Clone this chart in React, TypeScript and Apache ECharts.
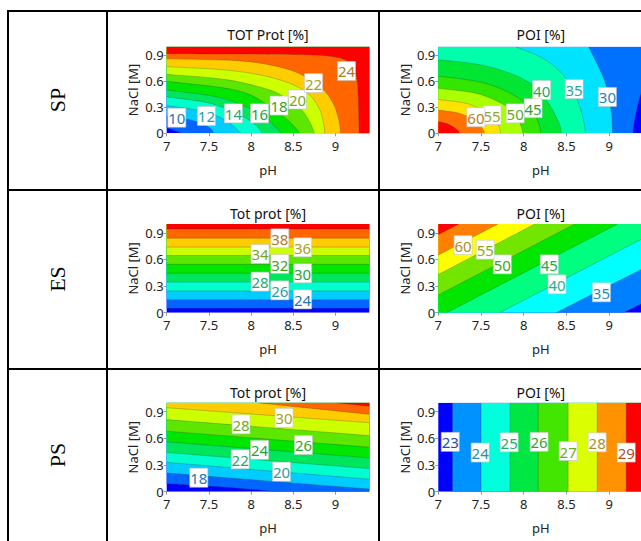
import React, { useEffect, useRef } from 'react';
import * as echarts from 'echarts';

// ---------- axes ----------
const PH_RANGE = [7, 9.4];
const NACL_RANGE = [0, 1];
const PH_TICK = 0.5;
const NACL_TICK = 0.3;

const rowNames = ['SP', 'ES', 'PS'];
const plotTitles = ['TOT Prot [%]', 'POI [%]', 'Tot prot [%]', 'POI [%]', 'Tot prot [%]', 'POI [%]'];

// ---------- SP : TOT Prot ----------
const spProtLevels = [8, 10, 12, 14, 16, 18, 20, 22, 24, 26];
const spProtLines = [
  [[7, 0.06], [7.1, 0.03], [7.18, 0]],
  [[7, 0.2], [7.3, 0.15], [7.5, 0.07], [7.56, 0]],
  [[7, 0.32], [7.4, 0.26], [7.7, 0.15], [7.88, 0]],
  [[7, 0.42], [7.5, 0.35], [7.85, 0.22], [8.05, 0.1], [8.13, 0]],
  [[7, 0.5], [7.6, 0.42], [7.95, 0.3], [8.2, 0.15], [8.36, 0]],
  [[7, 0.6], [7.7, 0.52], [8.0, 0.44], [8.22, 0.31], [8.45, 0.14], [8.58, 0]],
  [[7, 0.68], [7.7, 0.62], [8.22, 0.5], [8.45, 0.38], [8.6, 0.27], [8.7, 0.12], [8.75, 0]],
  [[7, 0.77], [7.7, 0.73], [8.22, 0.65], [8.62, 0.5], [8.8, 0.3], [8.86, 0.1], [8.87, 0]],
  [[7, 0.86], [7.8, 0.84], [8.22, 0.79], [8.55, 0.7], [8.82, 0.54], [8.97, 0.35], [9.04, 0.15], [9.06, 0]],
  [[7, 0.92], [8.5, 0.91], [9.0, 0.88], [9.18, 0.8], [9.25, 0.65], [9.27, 0.4], [9.28, 0]],
];
const spProtLabels = [
  [7.12, 0.18, 10], [7.47, 0.2, 12], [7.79, 0.23, 14], [8.1, 0.23, 16],
  [8.33, 0.32, 18], [8.55, 0.39, 20], [8.74, 0.58, 22], [9.13, 0.72, 24],
];

// ---------- SP : POI ----------
const spPoiLevels = [25, 30, 35, 40, 45, 50, 55, 60, 65];
const spPoiLines = [
  [[9.4, 0.55], [9.33, 0.3], [9.29, 0.1], [9.28, 0]],
  [[8.76, 1], [8.86, 0.8], [8.95, 0.6], [9.0, 0.4], [9.03, 0.2], [9.04, 0]],
  [[7.9, 1], [8.2, 0.88], [8.42, 0.72], [8.57, 0.52], [8.66, 0.3], [8.71, 0.1], [8.72, 0]],
  [[7, 0.85], [7.5, 0.79], [7.9, 0.67], [8.15, 0.52], [8.32, 0.3], [8.42, 0.1], [8.44, 0]],
  [[7, 0.66], [7.5, 0.59], [7.85, 0.46], [8.08, 0.29], [8.18, 0.1], [8.2, 0]],
  [[7, 0.52], [7.45, 0.46], [7.75, 0.34], [7.9, 0.22], [7.97, 0.08], [7.99, 0]],
  [[7, 0.39], [7.35, 0.34], [7.58, 0.23], [7.7, 0.1], [7.73, 0]],
  [[7, 0.27], [7.25, 0.23], [7.42, 0.15], [7.52, 0.05], [7.54, 0]],
  [[7, 0.135], [7.13, 0.1], [7.22, 0.04], [7.25, 0]],
];
const spPoiLabels = [
  [8.98, 0.42, 30], [8.59, 0.51, 35], [8.21, 0.5, 40], [8.11, 0.29, 45],
  [7.9, 0.23, 50], [7.63, 0.21, 55], [7.44, 0.185, 60],
];

// ---------- ES : Tot prot ----------
const esProtLevels = [22, 24, 26, 28, 30, 32, 34, 36, 38, 40];
const esProtLines = [
  [[7, 0.05], [9.4, 0.05]],
  [[7, 0.145], [9.4, 0.145]],
  [[7, 0.245], [9.4, 0.245]],
  [[7, 0.345], [9.4, 0.345]],
  [[7, 0.445], [9.4, 0.445]],
  [[7, 0.545], [9.4, 0.545]],
  [[7, 0.645], [9.4, 0.645]],
  [[7, 0.74], [9.4, 0.74]],
  [[7, 0.84], [9.4, 0.84]],
  [[7, 0.945], [9.4, 0.945]],
];
const esProtLabels = [
  [8.61, 0.15, 24], [8.34, 0.252, 26], [8.105, 0.35, 28], [8.61, 0.444, 30],
  [8.34, 0.549, 32], [8.105, 0.662, 34], [8.61, 0.737, 36], [8.34, 0.838, 38],
];

// ---------- ES : POI ----------
const esPoiLevels = [30, 35, 40, 45, 50, 55, 60, 65];
const esPoiLines = [
  [[9.17, 0], [9.4, 0.11]],
  [[8.38, 0], [9.4, 0.5]],
  [[7.72, 0], [9.4, 0.84]],
  [[7.1, 0], [9.1, 1]],
  [[7, 0.2], [8.6, 1]],
  [[7, 0.43], [8.13, 1]],
  [[7, 0.65], [7.7, 1]],
  [[7, 0.88], [7.24, 1]],
];
const esPoiLabels = [
  [8.91, 0.23, 35], [8.39, 0.32, 40], [8.3, 0.545, 45],
  [7.75, 0.545, 50], [7.55, 0.71, 55], [7.29, 0.763, 60],
];

// ---------- PS : Tot prot ----------
const psProtLevels = [16, 18, 20, 22, 24, 26, 28, 30, 32, 34];
const psProtLines = [
  [[7, 0.09], [7.7, 0.05], [8.3, 0]],
  [[7, 0.21], [9.4, 0.03]],
  [[7, 0.33], [9.4, 0.14]],
  [[7, 0.44], [9.4, 0.26]],
  [[7, 0.56], [9.4, 0.38]],
  [[7, 0.68], [9.4, 0.5]],
  [[7, 0.81], [9.4, 0.63]],
  [[7, 0.944], [9.4, 0.775]],
  [[8.07, 1], [9.4, 0.87]],
  [[9.0, 1], [9.4, 0.96]],
];
const psProtLabels = [
  [7.38, 0.157, 18], [8.36, 0.225, 20], [7.87, 0.364, 22], [8.1, 0.47, 24],
  [8.62, 0.525, 26], [7.88, 0.757, 28], [8.39, 0.83, 30],
];

// ---------- PS : POI ----------
const psPoiLevels = [23, 24, 25, 26, 27, 28, 29];
const psPoiLines = [
  [[7.165, 0], [7.165, 1]],
  [[7.5, 0], [7.5, 1]],
  [[7.84, 0], [7.84, 1]],
  [[8.17, 0], [8.17, 1]],
  [[8.52, 0], [8.52, 1]],
  [[8.86, 0], [8.86, 1]],
  [[9.2, 0], [9.2, 1]],
];
const psPoiLabels = [
  [7.14, 0.56, 23], [7.49, 0.44, 24], [7.83, 0.555, 25], [8.18, 0.56, 26],
  [8.52, 0.457, 27], [8.86, 0.555, 28], [9.2, 0.44, 29],
];

type Plot = { levels: number[]; lines: number[][][]; labels: number[][]; dir: 'ccw' | 'cw' };
const plots: Plot[] = [
  { levels: spProtLevels, lines: spProtLines, labels: spProtLabels, dir: 'ccw' },
  { levels: spPoiLevels, lines: spPoiLines, labels: spPoiLabels, dir: 'cw' },
  { levels: esProtLevels, lines: esProtLines, labels: esProtLabels, dir: 'ccw' },
  { levels: esPoiLevels, lines: esPoiLines, labels: esPoiLabels, dir: 'ccw' },
  { levels: psProtLevels, lines: psProtLines, labels: psProtLabels, dir: 'ccw' },
  { levels: psPoiLevels, lines: psPoiLines, labels: psPoiLabels, dir: 'cw' },
];

// ---------- layout ----------
const COLS = [
  { left: 166.7, width: 202.6 },
  { left: 438.3, width: 205 },
];
const ROWS = [
  { top: 46.7, height: 86.6, titleY: 34, labelY: 100 },
  { top: 224, height: 88.7, titleY: 213, labelY: 279 },
  { top: 402.7, height: 89, titleY: 392.5, labelY: 455 },
];

const FONT = '"Noto Sans", "DejaVu Sans", sans-serif';

// ---------- helpers ----------
function bandColor(i: number, n: number): number[] {
  const h = 240 * (1 - i / (n - 1));
  let r = 0, g = 0, b = 0;
  if (h <= 60) { r = 1; g = h / 60; }
  else if (h <= 120) { r = (120 - h) / 60; g = 1; }
  else if (h <= 180) { g = 1; b = (h - 120) / 60; }
  else { g = (240 - h) / 60; b = 1; }
  const v = h > 85 && h < 150 ? 0.9 : 1;
  return [r * 255 * v, g * 255 * v, b * 255 * v];
}
const rgb = (c: number[]) => `rgb(${Math.round(c[0])},${Math.round(c[1])},${Math.round(c[2])})`;

function labelColor(levels: number[], lv: number): string {
  const n = levels.length + 1;
  const j = Math.max(0, levels.indexOf(lv));
  const a = bandColor(j, n), b = bandColor(j + 1, n);
  const m = [0, 1, 2].map((k) => ((a[k] + b[k]) / 2) * 0.55 + 80 * 0.45);
  return rgb(m);
}

function smoothD(pts: number[][]): string {
  let d = `M${pts[0][0]} ${pts[0][1]}`;
  for (let i = 0; i < pts.length - 1; i++) {
    const p0 = pts[i - 1] || pts[i], p1 = pts[i], p2 = pts[i + 1], p3 = pts[i + 2] || pts[i + 1];
    const c1x = p1[0] + (p2[0] - p0[0]) / 6, c1y = p1[1] + (p2[1] - p0[1]) / 6;
    const c2x = p2[0] - (p3[0] - p1[0]) / 6, c2y = p2[1] - (p3[1] - p1[1]) / 6;
    d += `C${c1x} ${c1y} ${c2x} ${c2y} ${p2[0]} ${p2[1]}`;
  }
  return d;
}

const CORNERS = [
  [PH_RANGE[0], NACL_RANGE[0]], [PH_RANGE[1], NACL_RANGE[0]],
  [PH_RANGE[1], NACL_RANGE[1]], [PH_RANGE[0], NACL_RANGE[1]],
];
function perimT(p: number[]): number {
  const [x0, x1] = PH_RANGE, [y0, y1] = NACL_RANGE;
  const W = x1 - x0, H = y1 - y0, e = 1e-9;
  const [x, y] = p;
  if (Math.abs(y - y0) < e) return (x - x0) / W;
  if (Math.abs(x - x1) < e) return 1 + (y - y0) / H;
  if (Math.abs(y - y1) < e) return 2 + (x1 - x) / W;
  return 3 + (y1 - y) / H;
}
function closing(a: number[], b: number[], dir: 'ccw' | 'cw'): number[][] {
  const tA = perimT(a), tB = perimT(b);
  const out: number[][] = [];
  if (dir === 'ccw') {
    const end = tA > tB ? tA : tA + 4;
    for (let k = Math.floor(tB) + 1; k < end; k++) out.push(CORNERS[k % 4]);
  } else {
    const end = tA < tB ? tA : tA - 4;
    for (let k = Math.ceil(tB) - 1; k > end; k--) out.push(CORNERS[((k % 4) + 4) % 4]);
  }
  return out;
}

function buildOption() {
  const grid: any[] = [], xAxis: any[] = [], yAxis: any[] = [], series: any[] = [], graphic: any[] = [];
  const axisText = { color: '#222', fontSize: 13, fontFamily: FONT };

  plots.forEach((pl, k) => {
    const r = ROWS[Math.floor(k / 2)], c = COLS[k % 2];
    grid.push({ left: c.left, top: r.top, width: c.width, height: r.height, containLabel: false, outerBoundsMode: 'none' });
    xAxis.push({
      gridIndex: k, type: 'value', min: PH_RANGE[0], max: PH_RANGE[1], interval: PH_TICK,
      name: 'pH', nameLocation: 'middle', nameGap: 30, nameTextStyle: { ...axisText },
      axisLine: { show: false }, splitLine: { show: false },
      axisTick: { show: true, length: 3, lineStyle: { color: '#999' } },
      axisLabel: { ...axisText, margin: 6, showMaxLabel: false },
    });
    yAxis.push({
      gridIndex: k, type: 'value', min: NACL_RANGE[0], max: NACL_RANGE[1], interval: NACL_TICK,
      name: 'NaCl [M]', nameLocation: 'middle', nameGap: 27, nameTextStyle: { ...axisText },
      axisLine: { show: false }, splitLine: { show: false },
      axisTick: { show: true, length: 3, lineStyle: { color: '#999' } },
      axisLabel: { ...axisText, margin: 3, showMaxLabel: false },
    });
    const n = pl.levels.length + 1;
    const pal = Array.from({ length: n }, (_, i) => rgb(bandColor(i, n)));
    series.push({
      type: 'custom', xAxisIndex: k, yAxisIndex: k, clip: true, silent: true, z: 2,
      data: [-1, ...pl.levels.map((_, i) => i)].map((i) => [i]),
      renderItem: (params: any, api: any) => {
        const i = api.value(0) as number;
        if (i < 0) {
          const p0 = api.coord([PH_RANGE[0], NACL_RANGE[0]]);
          const p1 = api.coord([PH_RANGE[1], NACL_RANGE[1]]);
          return {
            type: 'rect', z2: 0,
            shape: { x: p0[0], y: p1[1], width: p1[0] - p0[0], height: p0[1] - p1[1] },
            style: { fill: pal[0] },
          };
        }
        const line = pl.lines[i];
        const px = line.map((p) => api.coord(p));
        const curve = smoothD(px);
        const corners = closing(line[0], line[line.length - 1], pl.dir).map((p) => api.coord(p));
        const d = curve + corners.map((p: number[]) => `L${p[0]} ${p[1]}`).join('') + 'Z';
        return {
          type: 'group',
          children: [
            { type: 'path', z2: 1 + i, shape: { pathData: d }, style: { fill: pal[i + 1] } },
            { type: 'path', z2: 100 + i, shape: { pathData: curve }, style: { fill: 'none', stroke: 'rgba(40,40,40,0.35)', lineWidth: 0.7 } },
          ],
        };
      },
    });
    series.push({
      type: 'custom', xAxisIndex: k, yAxisIndex: k, clip: false, silent: true, z: 5,
      data: pl.labels,
      renderItem: (params: any, api: any) => {
        const p = api.coord([api.value(0), api.value(1)]);
        const lv = api.value(2) as number;
        return {
          type: 'group', x: p[0], y: p[1],
          children: [
            { type: 'rect', z2: params.dataIndex * 2, shape: { x: -9, y: -9.5, width: 18, height: 19 }, style: { fill: '#fff', stroke: '#c4c4c4', lineWidth: 0.6 } },
            {
              type: 'text', z2: params.dataIndex * 2 + 1,
              style: {
                text: String(lv), x: 0, y: 0.5, align: 'center', verticalAlign: 'middle',
                textAlign: 'center', textVerticalAlign: 'middle',
                fill: labelColor(pl.levels, lv), font: `15px ${FONT}`,
              },
            },
          ],
        };
      },
    });
    graphic.push({
      type: 'text', x: c.left + c.width / 2, y: r.titleY, silent: true,
      style: {
        text: plotTitles[k], align: 'center', verticalAlign: 'middle', textAlign: 'center', textVerticalAlign: 'middle',
        fill: '#111', font: `14px ${FONT}`,
      },
    });
  });

  // table frame
  const tl = (x1: number, y1: number, x2: number, y2: number) => ({
    type: 'line', silent: true, shape: { x1, y1, x2, y2 }, style: { stroke: '#000', lineWidth: 2 },
  });
  graphic.push(tl(7, 11, 641, 11), tl(8, 10, 8, 541), tl(107, 10, 107, 541), tl(379, 10, 379, 541), tl(7, 190, 641, 190), tl(7, 369, 641, 369));
  rowNames.forEach((nm, i) => {
    graphic.push({
      type: 'text', x: 57.5, y: ROWS[i].labelY, rotation: Math.PI / 2, silent: true,
      style: {
        text: nm, align: 'center', verticalAlign: 'middle', textAlign: 'center', textVerticalAlign: 'middle',
        fill: '#000', font: '22px "Liberation Serif", "DejaVu Serif", serif',
      },
    });
  });

  return { animation: false, backgroundColor: '#fff', grid, xAxis, yAxis, series, graphic };
}

export default function App() {
  const ref = useRef<HTMLDivElement>(null);
  useEffect(() => {
    if (!ref.current) return;
    const chart = echarts.init(ref.current, undefined, { renderer: 'svg' });
    chart.setOption(buildOption() as any);
    return () => chart.dispose();
  }, []);
  return <div ref={ref} style={{ position: 'fixed', left: 0, top: 0, width: 641, height: 541, background: '#fff' }} />;
}
